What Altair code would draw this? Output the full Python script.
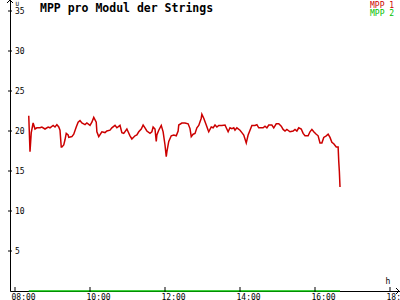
import altair as alt
import pandas as pd

# ---- data ----
mpp1_times = ["08:22","08:24","08:26","08:29","08:32","08:35","08:40","08:43","08:48","08:53",
              "08:56","09:01","09:04","09:07","09:10","09:12","09:14","09:15","09:18","09:20",
              "09:22","09:25","09:26","09:31","09:34","09:38","09:41","09:44","09:47","09:52",
              "09:55","10:00","10:03","10:06","10:10","10:11","10:14","10:19","10:24","10:27",
              "10:32","10:35","10:40","10:43","10:48","10:51","10:54","10:59","11:01","11:04",
              "11:07","11:12","11:15","11:18","11:22","11:25","11:28","11:31","11:36","11:39",
              "11:41","11:44","11:46","11:47","11:50","11:54","11:57","12:00","12:02","12:03",
              "12:06","12:10","12:14","12:18","12:21","12:22","12:27","12:32","12:37","12:40",
              "12:42","12:45","12:48","12:51","12:54","12:58","12:59","13:02","13:06","13:09",
              "13:10","13:14","13:17","13:20","13:23","13:26","13:31","13:36","13:38","13:41",
              "13:44","13:47","13:50","13:52","13:55","14:00","14:03","14:06","14:10","14:13",
              "14:16","14:19","14:24","14:27","14:30","14:34","14:37","14:40","14:43","14:46",
              "14:51","14:54","14:58","15:02","15:06","15:09","15:12","15:15","15:20","15:25",
              "15:28","15:31","15:34","15:38","15:41","15:44","15:49","15:52","15:55","15:58",
              "16:02","16:05","16:08","16:11","16:14","16:18","16:21","16:24","16:27","16:30",
              "16:34","16:37","16:38","16:39","16:40"]
mpp1_values = [21.9,17.4,19.8,21.0,20.25,20.4,20.4,20.5,20.25,20.5,
               20.4,20.7,20.5,20.8,20.5,20.1,18.0,18.0,18.25,18.9,
               19.7,19.5,19.2,19.3,19.6,20.5,21.1,21.3,21.0,20.8,
               21.0,20.7,21.1,21.7,21.1,19.9,19.3,19.9,19.8,20.0,
               20.1,20.4,20.7,20.4,20.7,19.8,19.7,20.25,19.9,19.4,
               19.0,19.4,19.5,19.9,20.25,20.75,20.4,20.0,19.7,19.9,
               20.5,20.25,18.7,19.5,20.1,20.7,19.9,18.25,16.8,17.4,
               18.7,19.4,19.5,19.4,20.0,20.75,21.0,21.0,20.9,20.3,
               19.3,19.6,19.7,20.4,20.7,21.6,22.1,21.6,20.75,20.1,
               19.9,20.5,20.4,20.75,20.5,20.7,20.7,20.75,20.4,19.9,
               20.4,20.3,20.4,20.1,20.4,20.1,19.8,19.5,18.5,19.5,
               20.1,20.7,20.7,20.8,20.4,20.4,20.4,20.6,20.4,20.75,
               20.75,20.4,20.9,20.9,20.6,20.2,20.0,20.2,19.9,20.0,
               20.2,20.0,20.4,20.25,19.7,19.4,19.4,19.9,20.2,19.9,
               19.6,19.4,18.5,18.5,19.2,19.4,19.6,19.2,18.6,18.4,
               18.0,18.0,16.2,14.9,13.0]
mpp2_times = ["08:22", "16:40"]
mpp2_values = [0, 0]

series_names = ["MPP 1", "MPP 2"]
series_colors = ["#cc0000", "#00c000"]
x_tick_labels = ["08:00", "10:00", "12:00", "14:00", "16:00", "18:00"]
y_tick_values = [5, 10, 15, 20, 25, 30, 35]
title_text = "MPP pro Modul der Strings"
y_unit = "U"
x_unit = "h"


def to_min(s):
    h, m = s.split(":")
    return int(h) * 60 + int(m)


df = pd.DataFrame({
    "t": [to_min(s) for s in mpp1_times] + [to_min(s) for s in mpp2_times],
    "v": mpp1_values + mpp2_values,
    "series": [series_names[0]] * len(mpp1_times) + [series_names[1]] * len(mpp2_times),
})
xticks_df = pd.DataFrame({"t": [to_min(s) for s in x_tick_labels]})
yticks_df = pd.DataFrame({"v": y_tick_values})

FONT = "DejaVu Sans Mono"
W, H = 390, 291
x_scale = alt.Scale(domain=[472, 472 + W * 1.6], nice=False, zero=False)
y_scale = alt.Scale(domain=[0, H / 8], nice=False, zero=False)

x_axis = alt.Axis(
    values=[to_min(s) for s in x_tick_labels],
    labelExpr="(datum.value < 600 ? '0' : '') + floor(datum.value / 60) + ':00'",
    labelAlign="left", labelBaseline="top", labelOffset=-4, labelPadding=2,
    labelFont=FONT, labelFontSize=8, labelColor="black",
    labelFlush=False, labelOverlap=False,
    ticks=False, grid=False, domainColor="black", domainWidth=1,
    title=x_unit, titleX=375, titleY=-6, titleAlign="left", titleBaseline="bottom",
    titleFont=FONT, titleFontSize=8, titleFontWeight="normal", titleColor="black",
)
y_axis = alt.Axis(
    values=y_tick_values,
    labelAlign="left", labelBaseline="middle", labelPadding=-4.5,
    labelFont=FONT, labelFontSize=8, labelColor="black",
    labelFlush=False, labelOverlap=False,
    ticks=False, grid=False, domainColor="black", domainWidth=1,
    title=y_unit, titleAngle=0, titleX=5, titleY=0, titleAlign="left", titleBaseline="top",
    titleFont=FONT, titleFontSize=6, titleFontWeight="normal", titleColor="black",
)

lines = alt.Chart(df).mark_line(strokeWidth=1.5).encode(
    x=alt.X("t:Q", scale=x_scale, axis=x_axis),
    y=alt.Y("v:Q", scale=y_scale, axis=y_axis),
    color=alt.Color(
        "series:N",
        scale=alt.Scale(domain=series_names, range=series_colors),
        legend=alt.Legend(
            orient="none", legendX=352, legendY=2, title=None,
            symbolSize=0, symbolOpacity=0, symbolStrokeWidth=0, labelOffset=0,
            rowPadding=0, padding=0,
            labelFont=FONT, labelFontSize=8,
            labelColor=alt.ExprRef(expr="datum.value == 'MPP 1' ? '#cc0000' : '#00c000'"),
        ),
    ),
)

y_ticks = alt.Chart(yticks_df).mark_rule(color="black", strokeWidth=1).encode(
    y=alt.Y("v:Q", scale=y_scale),
    x=alt.value(-2), x2=alt.value(2),
)
x_ticks = alt.Chart(xticks_df).mark_rule(color="black", strokeWidth=1).encode(
    x=alt.X("t:Q", scale=x_scale),
    y=alt.value(H - 4), y2=alt.value(H + 1),
)
y_arrow = alt.Chart(yticks_df).mark_point(
    shape="M-1,1L0,0L1,1", filled=False, size=36, color="black", strokeWidth=1, opacity=1
).encode(x=alt.value(0), y=alt.value(0))
x_arrow = alt.Chart(yticks_df).mark_point(
    shape="M-1,-1L0,0L-1,1", filled=False, size=36, color="black", strokeWidth=1, opacity=1
).encode(x=alt.value(W - 1), y=alt.value(H))

chart = alt.layer(lines, y_ticks, x_ticks, y_arrow, x_arrow).properties(
    width=W, height=H,
    autosize=alt.AutoSizeParams(type="none"),
    padding={"left": 10, "top": 0, "right": 0, "bottom": 9},
    background="white",
    title=alt.TitleParams(
        title_text, anchor="start", frame="group", font=FONT, fontSize=11.5,
        fontWeight="bold", color="black", baseline="top", offset=0, dx=30, dy=16,
    ),
).configure_view(stroke=None)

chart.save("out.html", embed_options={"renderer": "svg", "actions": False})
